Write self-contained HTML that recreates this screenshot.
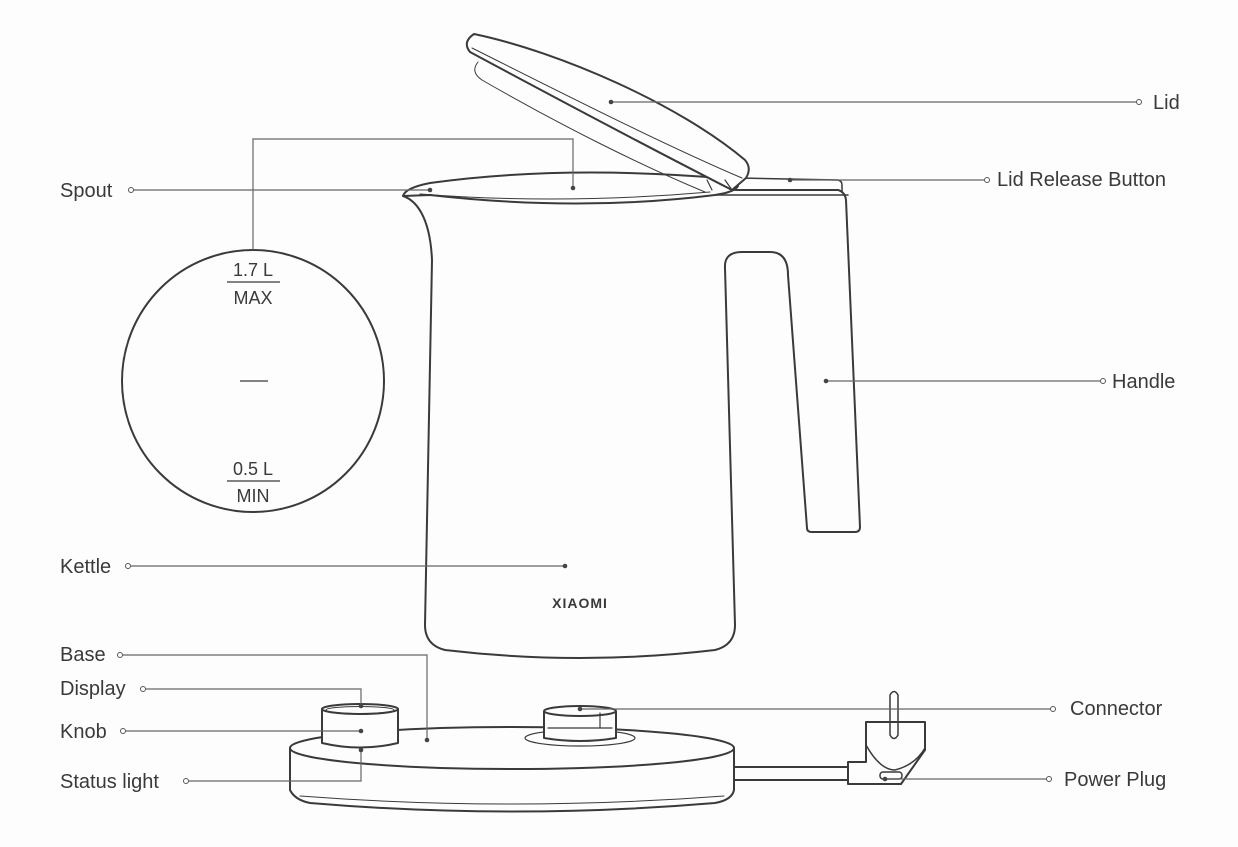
<!DOCTYPE html>
<html><head><meta charset="utf-8"><style>
html,body{margin:0;padding:0;background:#fdfdfe;}
svg{display:block}
text{font-family:"Liberation Sans",sans-serif;fill:#3a3a3a;font-size:20px}
</style></head><body>
<svg width="1238" height="847" viewBox="0 0 1238 847" xmlns="http://www.w3.org/2000/svg">
<g fill="none" stroke="#3a3a3a" stroke-width="2" stroke-linejoin="round" stroke-linecap="round">
 <!-- body -->
 <path d="M403,196 C415,200 430,215 432,260 L425,625 Q425,645 445,650 Q580,666 715,650 Q735,645 735,625 L725,268 Q724,252 742,252 L770,252 Q788,252 788,275 L807,528 Q807,532 812,532 L855,532 Q860,532 860,527 L846,200 Q845,192 838,190 L735,190"/>
 <!-- rim -->
 <path d="M403,196 Q405,188 430,183 Q560,165 720,178 L738,186 Q735,192 715,195 Q580,212 430,195 Z"/>
 <path d="M420,194 Q560,205 710,192" stroke-width="1"/>
 <path d="M715,195 L848,195" stroke-width="1.5"/>
 <!-- lid release -->
 <path d="M738,178 L838,180 Q842,181 842,185 L842,192" stroke-width="1.5"/>
 <!-- lid underside -->
 <path d="M478,62 Q470,72 482,80 C560,125 640,165 705,192" stroke-width="1"/>
 <!-- lid -->
 <path d="M474,34 C560,52 680,105 745,160 Q752,168 746,178 L732,190 C650,148 550,95 470,52 Q462,42 474,34 Z" fill="#fdfdfe"/>
 <path d="M472,48 C560,92 660,143 742,178" stroke-width="1"/>
 <path d="M707,180 L712,190 M725,180 L732,190" stroke-width="1.2"/>
 <!-- base -->
 <ellipse cx="512" cy="748" rx="222" ry="21"/>
 <path d="M290,748 L290,790 Q295,800 310,803 Q512,820 715,803 Q732,800 734,790 L734,748"/>
 <path d="M300,796 Q512,812 724,796" stroke-width="1"/>
 <!-- knob -->
 <path d="M322,709 L322,743 Q360,752 398,743 L398,709" fill="#fdfdfe"/>
 <ellipse cx="360" cy="709" rx="38" ry="5" fill="#fdfdfe"/>
 <ellipse cx="360" cy="710" rx="34" ry="3.5" stroke-width="1"/>
 <!-- connector -->
 <ellipse cx="580" cy="738" rx="55" ry="8" stroke-width="1.2"/>
 <path d="M544,712 L544,738 Q580,744 616,738 L616,712" fill="#fdfdfe"/>
 <ellipse cx="580" cy="711" rx="36" ry="5" fill="#fdfdfe"/>
 <path d="M548,728 L612,728 M600,713 L600,728" stroke-width="1.2"/>
 <!-- cord and plug -->
 <path d="M735,767 L848,767 M735,780 L848,780"/>
 <path d="M848,762 L866,762 L866,722 L925,722 L925,750 L901,784 L848,784 Z" fill="#fdfdfe"/>
 <path d="M866,745 Q880,770 895,770 Q915,765 925,748" stroke-width="1.5"/>
 <rect x="880" y="772" width="22" height="7" rx="3" stroke-width="1.5"/>
 <path d="M890,735 L890,695 Q894,688 898,695 L898,735 Q894,742 890,735 Z" stroke-width="1.5"/>
 <!-- circle -->
 <circle cx="253" cy="381" r="131"/>
</g>
<g stroke="#3a3a3a" stroke-width="1.3">
 <line x1="227" y1="282" x2="280" y2="282"/>
 <line x1="227" y1="481" x2="280" y2="481"/>
 <line x1="240" y1="381" x2="268" y2="381"/>
</g>
<text x="253" y="276" text-anchor="middle" style="font-size:18px">1.7 L</text>
<text x="253" y="304" text-anchor="middle" style="font-size:18px">MAX</text>
<text x="253" y="475" text-anchor="middle" style="font-size:18px">0.5 L</text>
<text x="253" y="502" text-anchor="middle" style="font-size:18px">MIN</text>
<text x="580" y="608" text-anchor="middle" style="font-size:14px;font-weight:bold;letter-spacing:1px">XIAOMI</text>
<!-- leaders -->
<g fill="none" stroke="#666" stroke-width="1.2">
 <path d="M133,190 L430,190"/>
 <path d="M253,250 L253,139 L573,139 L573,188"/>
 <path d="M611,102 L1136,102"/>
 <path d="M790,180 L984,180"/>
 <path d="M826,381 L1100,381"/>
 <path d="M131,566 L565,566"/>
 <path d="M123,655 L427,655 L427,740"/>
 <path d="M146,689 L361,689 L361,706"/>
 <path d="M126,731 L361,731"/>
 <path d="M189,781 L361,781 L361,750"/>
 <path d="M580,709 L1050,709"/>
 <path d="M885,779 L1046,779"/>
</g>
<g fill="#fdfdfe" stroke="#555" stroke-width="1">
 <circle cx="131" cy="190" r="2.5"/><circle cx="1139" cy="102" r="2.5"/><circle cx="987" cy="180" r="2.5"/>
 <circle cx="1103" cy="381" r="2.5"/><circle cx="128" cy="566" r="2.5"/><circle cx="120" cy="655" r="2.5"/>
 <circle cx="143" cy="689" r="2.5"/><circle cx="123" cy="731" r="2.5"/><circle cx="186" cy="781" r="2.5"/>
 <circle cx="1053" cy="709" r="2.5"/><circle cx="1049" cy="779" r="2.5"/>
</g>
<g fill="#444">
 <circle cx="430" cy="190" r="2.3"/><circle cx="573" cy="188" r="2.3"/><circle cx="611" cy="102" r="2.3"/>
 <circle cx="790" cy="180" r="2.3"/><circle cx="826" cy="381" r="2.3"/><circle cx="565" cy="566" r="2.3"/>
 <circle cx="427" cy="740" r="2.3"/><circle cx="361" cy="706" r="2.3"/><circle cx="361" cy="731" r="2.3"/>
 <circle cx="361" cy="750" r="2.3"/><circle cx="580" cy="709" r="2.3"/><circle cx="885" cy="779" r="2.3"/>
</g>
<text x="60" y="197">Spout</text>
<text x="1153" y="109">Lid</text>
<text x="997" y="186">Lid Release Button</text>
<text x="1112" y="388">Handle</text>
<text x="60" y="573">Kettle</text>
<text x="60" y="661">Base</text>
<text x="60" y="695">Display</text>
<text x="60" y="738">Knob</text>
<text x="60" y="788">Status light</text>
<text x="1070" y="715">Connector</text>
<text x="1064" y="786">Power Plug</text>
</svg>
</body></html>
